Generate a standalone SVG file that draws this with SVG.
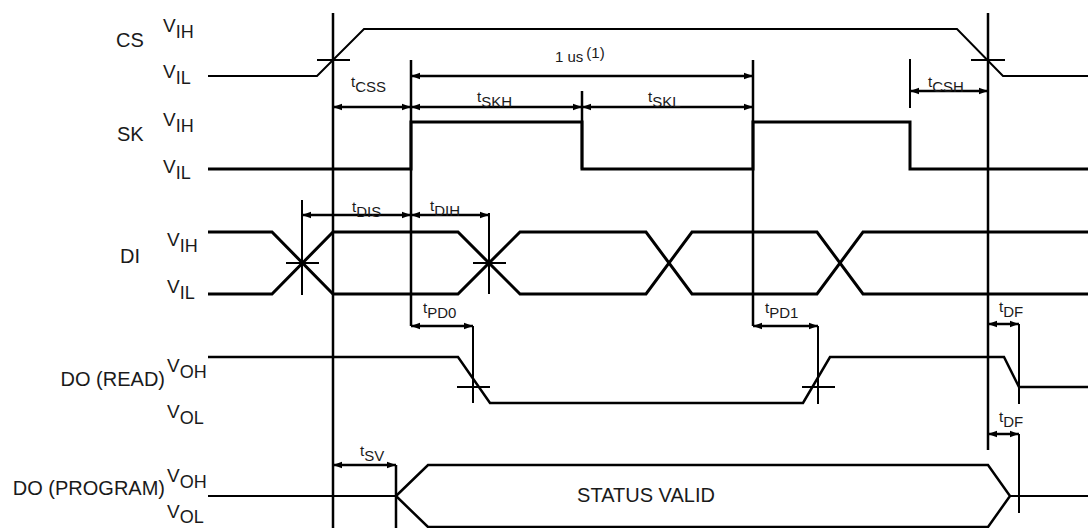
<svg xmlns="http://www.w3.org/2000/svg" width="1088" height="528" viewBox="0 0 1088 528">
<style>
  .sig { fill: none; stroke: #000; stroke-linejoin: miter; stroke-linecap: butt; }
  .thin { stroke-width: 2; }
  .mid { stroke-width: 2.5; }
  .thick { stroke-width: 3; }
  .ref { fill: none; stroke: #000; stroke-width: 2.5; }
  .tick { fill: none; stroke: #000; stroke-width: 2; }
  .arr { fill: none; stroke: #000; stroke-width: 2.5; marker-start: url(#ah); marker-end: url(#ah); }
  .name { font-family: "Liberation Sans", Arial, sans-serif; font-size: 20px; fill: #1a1a1a; }
  .lvl { font-family: "Liberation Sans", Arial, sans-serif; font-size: 19px; fill: #1a1a1a; }
  .lvl tspan { font-size: 18px; }
  .tl { font-family: "Liberation Sans", Arial, sans-serif; font-size: 15px; fill: #1a1a1a; }
</style>
<defs>
  <marker id="ah" markerUnits="userSpaceOnUse" markerWidth="10" markerHeight="8" refX="9" refY="4" orient="auto-start-reverse">
    <path d="M0,0.8 L9,4 L0,7.2 z" fill="#000"/>
  </marker>
</defs>
<rect width="1088" height="528" fill="#fff"/>

<g id="sig-cs">
  <text class="name" x="116" y="47">CS</text>
  <text class="lvl" x="163" y="32">V<tspan dy="6">IH</tspan></text>
  <text class="lvl" x="163" y="78">V<tspan dy="6">IL</tspan></text>
  <path class="sig thin" d="M208,76 H317 L364,29 H957 L1003,76 H1088"/>
</g>

<g id="sig-sk">
  <text class="name" x="117" y="141">SK</text>
  <text class="lvl" x="163" y="126">V<tspan dy="6">IH</tspan></text>
  <text class="lvl" x="163" y="173">V<tspan dy="6">IL</tspan></text>
  <path class="sig thick" d="M208,169 H411 V122 H582 V169 H753 V122 H910 V169 H1088"/>
</g>

<g id="sig-di">
  <text class="name" x="120" y="263">DI</text>
  <text class="lvl" x="167" y="246">V<tspan dy="6">IH</tspan></text>
  <text class="lvl" x="167" y="293">V<tspan dy="6">IL</tspan></text>
  <path class="sig thick" d="M208,232 H272 L333,294 H458 L520,232 H646 L692,294 H817 L863,232 H1088"/>
  <path class="sig thick" d="M208,294 H272 L333,232 H458 L520,294 H646 L692,232 H817 L863,294 H1088"/>
</g>

<g id="sig-do-read">
  <text class="name" x="165" y="386" text-anchor="end">DO (READ)</text>
  <text class="lvl" x="167" y="372">V<tspan dy="6">OH</tspan></text>
  <text class="lvl" x="167" y="418">V<tspan dy="6">OL</tspan></text>
  <path class="sig mid" d="M208,357 H458 L490,403 H803 L830,357 H1004 L1019,387 H1088"/>
</g>

<g id="sig-do-program">
  <text class="name" x="165" y="495" text-anchor="end">DO (PROGRAM)</text>
  <text class="lvl" x="167" y="482">V<tspan dy="6">OH</tspan></text>
  <text class="lvl" x="167" y="518">V<tspan dy="5">OL</tspan></text>
  <path class="sig thin" d="M208,496 H396"/>
  <path class="sig mid" d="M396,496 L428,465 H988 L1010,496 L988,527 H428 Z"/>
  <path class="sig thin" d="M1010,496 H1088"/>
  <text class="name" x="646" y="502" text-anchor="middle">STATUS VALID</text>
</g>

<g id="reference-lines">
  <path class="ref" d="M333,13 V528 M411,60 V326 M582,91 V169 M753,60 V326 M988,13 V450 M396,465 V528"/>
  <path class="tick" d="M910,59 V108 M302,200 V295 M489,213 V294 M473,326 V403 M818,326 V404 M1019,324 V404 M1019,434 V513"/>
  <path class="tick" d="M317,60 H350 M971,60 H1005 M286,263 H319 M473,263 H506 M457,387 H490 M802,387 H835"/>
</g>

<g id="connectors">
  <path class="arr" d="M411,76 H753"/>
  <path class="arr" d="M333,107 H411"/>
  <path class="arr" d="M411,107 H582"/>
  <path class="arr" d="M582,107 H753"/>
  <path class="arr" d="M910,91 H988"/>
  <path class="arr" d="M302,215 H411"/>
  <path class="arr" d="M411,215 H489"/>
  <path class="arr" d="M411,326 H473"/>
  <path class="arr" d="M753,326 H818"/>
  <path class="arr" d="M988,324 H1019"/>
  <path class="arr" d="M988,434 H1019"/>
  <path class="arr" d="M333,465 H396"/>
</g>

<g id="timing-labels">
  <text class="tl" x="555" y="62">1 us<tspan dx="3" dy="-4">(1)</tspan></text>
  <text class="tl" x="351" y="87">t<tspan dy="5">CSS</tspan></text>
  <text class="tl" x="477" y="102">t<tspan dy="5">SKH</tspan></text>
  <text class="tl" x="648" y="102">t<tspan dy="5">SKL</tspan></text>
  <text class="tl" x="928" y="87">t<tspan dy="5">CSH</tspan></text>
  <text class="tl" x="352" y="212">t<tspan dy="5">DIS</tspan></text>
  <text class="tl" x="430" y="211">t<tspan dy="5">DIH</tspan></text>
  <text class="tl" x="423" y="313">t<tspan dy="5">PD0</tspan></text>
  <text class="tl" x="765" y="313">t<tspan dy="5">PD1</tspan></text>
  <text class="tl" x="999" y="312">t<tspan dy="5">DF</tspan></text>
  <text class="tl" x="999" y="422">t<tspan dy="5">DF</tspan></text>
  <text class="tl" x="360" y="456">t<tspan dy="5">SV</tspan></text>
</g>
</svg>
